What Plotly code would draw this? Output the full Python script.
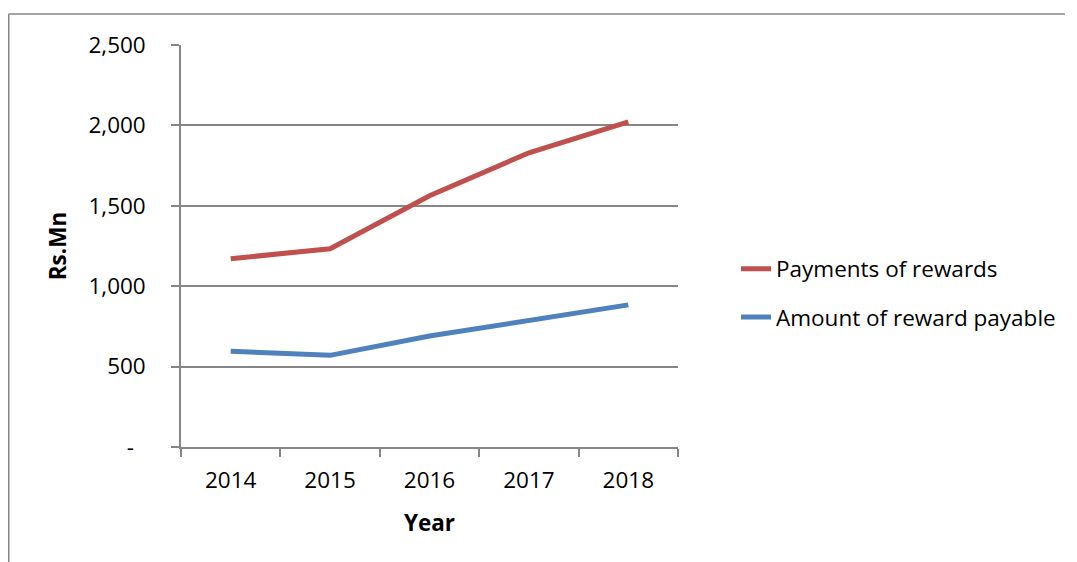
import plotly.graph_objects as go

years = ["2014", "2015", "2016", "2017", "2018"]
payments = [1171, 1233, 1562, 1830, 2022]
payable = [595, 570, 690, 789, 884]
ytick_vals = [0, 500, 1000, 1500, 2000, 2500]
ytick_text = ["-\u00a0\u00a0", "500", "1,000", "1,500", "2,000", "2,500"]

FONT = "'Open Sans', sans-serif"
FS = 22.5

fig = go.Figure()
fig.add_trace(go.Scatter(x=years, y=payments, mode="lines", name="Payments of rewards",
                         legendgroup="a",
                         line=dict(color="#C0504D", width=5)))
fig.add_trace(go.Scatter(x=years, y=payable, mode="lines", name="Amount of reward payable",
                         legendgroup="b",
                         line=dict(color="#4F81BD", width=5)))

# page is offset by the 8px default body margin
OFF = 8
W, H = 1077, 562
ml, mr, mt, mb = 181 - OFF, 1077 - 678 + OFF, 45 - OFF, 562 - 447 + OFF
pw, ph = W - ml - mr, H - mt - mb

def px_x(x):
    return (x - OFF - ml) / pw

def px_y(y):
    return (H - mb - (y - OFF)) / ph

fig.update_layout(
    width=W, height=H,
    margin=dict(l=ml, r=mr, t=mt, b=mb),
    paper_bgcolor="white", plot_bgcolor="white",
    font=dict(family=FONT, size=FS, color="black"),
    showlegend=True,
    legend=dict(x=px_x(736), y=px_y(293), xanchor="left", yanchor="middle",
                font=dict(size=FS), bgcolor="rgba(0,0,0,0)", tracegroupgap=16,
                itemwidth=30),
    xaxis=dict(type="category", range=[-0.5, 4.5], showgrid=False,
               showline=True, linecolor="#868686", linewidth=1.5,
               ticks="outside", tickson="boundaries", ticklen=8, tickcolor="#868686",
               tickwidth=1.5, ticklabelstandoff=12,
               title=dict(text="<b>Year</b>", font=dict(size=FS), standoff=21)),
    yaxis=dict(range=[0, 2500], tickvals=ytick_vals, ticktext=ytick_text,
               showgrid=True, gridcolor="#868686", gridwidth=1.5,
               showline=True, linecolor="#868686", linewidth=1.5,
               ticks="outside", ticklen=8, tickcolor="#868686", tickwidth=1.5,
               zeroline=False, ticklabelstandoff=21,
               title=dict(text="<b>Rs.Mn</b>", font=dict(size=FS), standoff=16)),
)

# outer chart frame (partially visible)
fig.add_shape(type="line", xref="paper", yref="paper",
              x0=px_x(8.75), x1=px_x(1065), y0=px_y(14), y1=px_y(14),
              line=dict(color="#868686", width=1.5))
fig.add_shape(type="line", xref="paper", yref="paper",
              x0=px_x(8.75), x1=px_x(8.75), y0=px_y(14), y1=px_y(570),
              line=dict(color="#868686", width=1.5))

fig.write_html("out.html")
